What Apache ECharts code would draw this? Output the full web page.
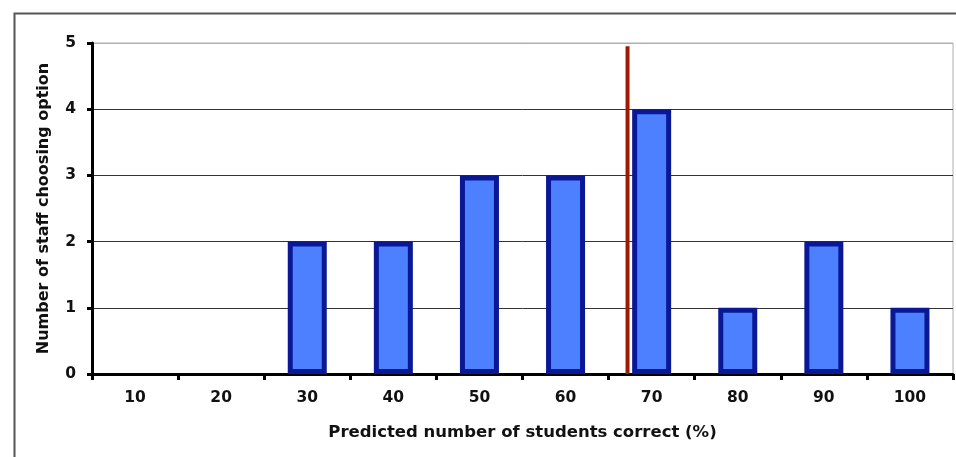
<!DOCTYPE html>
<html>
<head>
<meta charset="utf-8">
<script src="https://cdn.jsdelivr.net/npm/echarts@6/dist/echarts.min.js"></script>
<style>
html,body{margin:0;padding:0;background:#fff;}
#chart{width:956px;height:457px;}
</style>
</head>
<body>
<div id="chart"></div>
<script>
const categories = ['10','20','30','40','50','60','70','80','90','100'];
const staffCounts = [0, 0, 2, 2, 3, 3, 4, 1, 2, 1];
const actualPercent = 67.2;
const actualLineTop = 4.95;
const yTicks = [0, 1, 2, 3, 4, 5];

const chart = echarts.init(document.getElementById('chart'));
const font = 'DejaVu Sans';
chart.setOption({
  animation: false,
  backgroundColor: '#fff',
  graphic: [{
    type: 'rect', left: 12, top: 11, z: -10,
    shape: { width: 1000, height: 500 },
    style: { fill: 'none', stroke: '#555', lineWidth: 2 }
  }],
  grid: {
    left: 92, right: 3, top: 43, bottom: 83,
    show: true, borderColor: '#b0b0b0', borderWidth: 1, backgroundColor: 'transparent'
  },
  xAxis: [{
    type: 'category',
    data: categories,
    boundaryGap: true,
    name: 'Predicted number of students correct (%)',
    nameLocation: 'middle',
    nameGap: 50,
    nameTextStyle: { fontFamily: font, fontWeight: 'bold', fontSize: 16.5, color: '#111' },
    axisLine: { lineStyle: { color: '#000', width: 3 } },
    axisTick: { show: true, alignWithLabel: false, length: 6, lineStyle: { color: '#000', width: 3 } },
    axisLabel: { fontFamily: font, fontWeight: 'bold', fontSize: 15.5, color: '#111', margin: 16 },
    splitLine: { show: false }
  }, {
    type: 'value', min: 5, max: 105, show: false
  }],
  yAxis: {
    type: 'value',
    min: yTicks[0], max: yTicks[yTicks.length - 1], interval: 1,
    name: 'Number of staff choosing option',
    nameLocation: 'middle',
    nameGap: 40,
    nameTextStyle: { fontFamily: font, fontWeight: 'bold', fontSize: 16, color: '#111' },
    axisLine: { show: true, lineStyle: { color: '#000', width: 3 } },
    axisTick: { show: true, length: 5, lineStyle: { color: '#000', width: 3 } },
    axisLabel: { fontFamily: font, fontWeight: 'bold', fontSize: 15.5, color: '#111', margin: 16 },
    splitLine: { show: true, lineStyle: { color: ['#333','#333','#333','#333','#333','#b0b0b0'], width: 1 } }
  },
  series: [{
    type: 'bar',
    data: staffCounts.map(v => v === 0 ? '-' : v),
    barWidth: 39,
    itemStyle: { color: '#4d80ff', borderColor: '#0a1896', borderWidth: 5 },
    z: 3
  }, {
    type: 'line',
    xAxisIndex: 1,
    data: [[actualPercent, 0], [actualPercent, actualLineTop]],
    symbol: 'none',
    lineStyle: { color: '#a01a00', width: 4 },
    z: 4
  }]
});
</script>
</body>
</html>
